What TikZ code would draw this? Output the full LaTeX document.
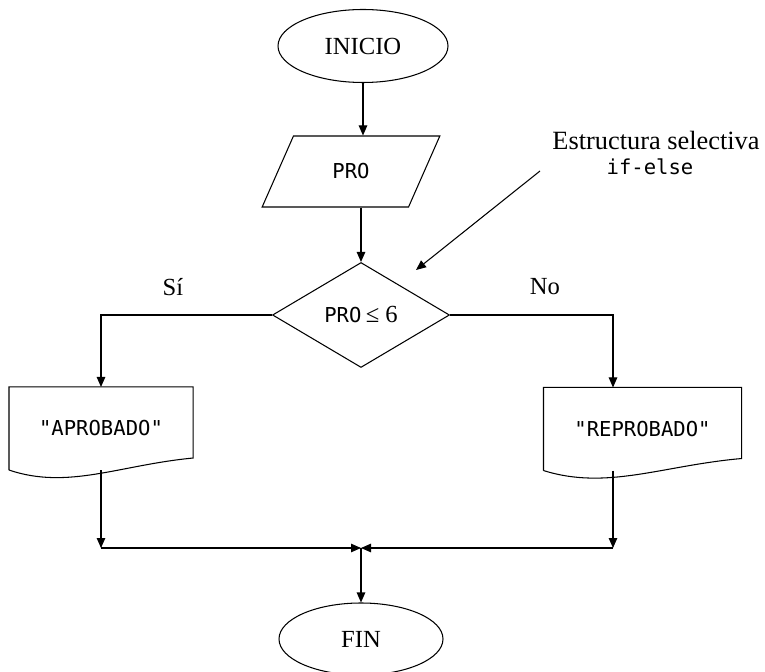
\documentclass[tikz,border=0pt]{standalone}
\usepackage{fontspec}
\setmainfont{Liberation Serif}
\newfontfamily\mono{DejaVu Sans Mono}
\usetikzlibrary{
    shapes.geometric, arrows.meta, calc
}
\tikzset{
  term/.style={ellipse, draw, minimum width=3.4cm, minimum height=1.46cm,
               inner sep=0pt, font=\fontsize{14}{16}\selectfont},
  io/.style={trapezium, trapezium left angle=57, trapezium right angle=123,
             trapezium stretches=true, draw, minimum width=3.56cm,
             minimum height=1.42cm, inner sep=0pt,
             font=\mono\fontsize{11.7}{14}\selectfont},
  decision/.style={diamond, draw, minimum width=3.54cm, minimum height=2.1cm,
                   inner sep=0pt},
  doc/.style={rectangle, minimum height=1.64cm, inner sep=0pt,
              font=\mono\fontsize{11.7}{14}\selectfont},
  lbl/.style={font=\fontsize{14}{16}\selectfont, inner sep=0pt},
  arr/.style={-{Triangle[length=0.2cm, width=0.17cm]}},
}

\begin{document}
\begin{tikzpicture}[line width=0.6pt]
  \useasboundingbox (0,0) rectangle (15.3,13.42);
  \node[term] (inicio) at (7.26,12.5) {INICIO};
  \node[io] (pro) at (7.02,9.99) {PRO};
  \node[decision] (dec) at (7.22,7.12) {{\mono\fontsize{11.7}{14}\selectfont PRO} {\fontsize{14}{16}\selectfont ≤ 6}};
  \node[lbl] (si) at (3.46,7.68) {Sí};
  \node[lbl] (no) at (10.9,7.68) {No};
  \node[doc, minimum width=3.66cm] (apr) at (2.02,4.85) {"APROBADO"};
  \node[doc, minimum width=3.94cm] (rep) at (12.85,4.84) {"REPROBADO"};
  \node[term, minimum width=3.28cm, minimum height=1.44cm] (fin) at (7.22,0.64) {FIN};
  \node[lbl, anchor=base, font=\fontsize{15}{17}\selectfont] (note) at (13.12,10.42) {Estructura selectiva};
  \node[lbl, anchor=base, font=\mono\fontsize{11.7}{14}\selectfont] (noteb) at (13.0,9.92) {if-else};
  \coordinate (join) at (7.22,2.46);
  \coordinate (tail) at (10.8,10.0);
  \coordinate (tip) at (8.32,8.02);

  % document outlines
  \foreach \d in {apr,rep}
    \draw (\d.south west) -- (\d.north west) -- (\d.north east)
      -- ([yshift=0.24cm]\d.south east)
      .. controls ($(\d.south west)!0.6!(\d.south east)+(0,0.1)$)
      and ($(\d.south west)!0.32!(\d.south east)+(0,-0.4)$) .. (\d.south west);

  % flow
  \draw[arr] (inicio) -- (inicio |- pro.north);
  \draw[arr] (dec.north |- pro.south) -- (dec.north);
  \draw[arr] (dec.west) -| (apr.north);
  \draw[arr] (dec.east) -| ([xshift=-0.59cm]rep.north);
  \draw[arr] (apr.south) -- (apr.south |- join);
  \draw[arr] (apr.south |- join) -- (join);
  \draw[arr] ([xshift=-0.59cm]rep.south) -- ([xshift=-0.59cm]rep.south |- join);
  \draw[arr] ([xshift=-0.59cm]rep.south |- join) -- (join);
  \draw[arr] (join) -- (fin);
  \draw[arr] (tail) -- (tip);
\end{tikzpicture}
\end{document}
